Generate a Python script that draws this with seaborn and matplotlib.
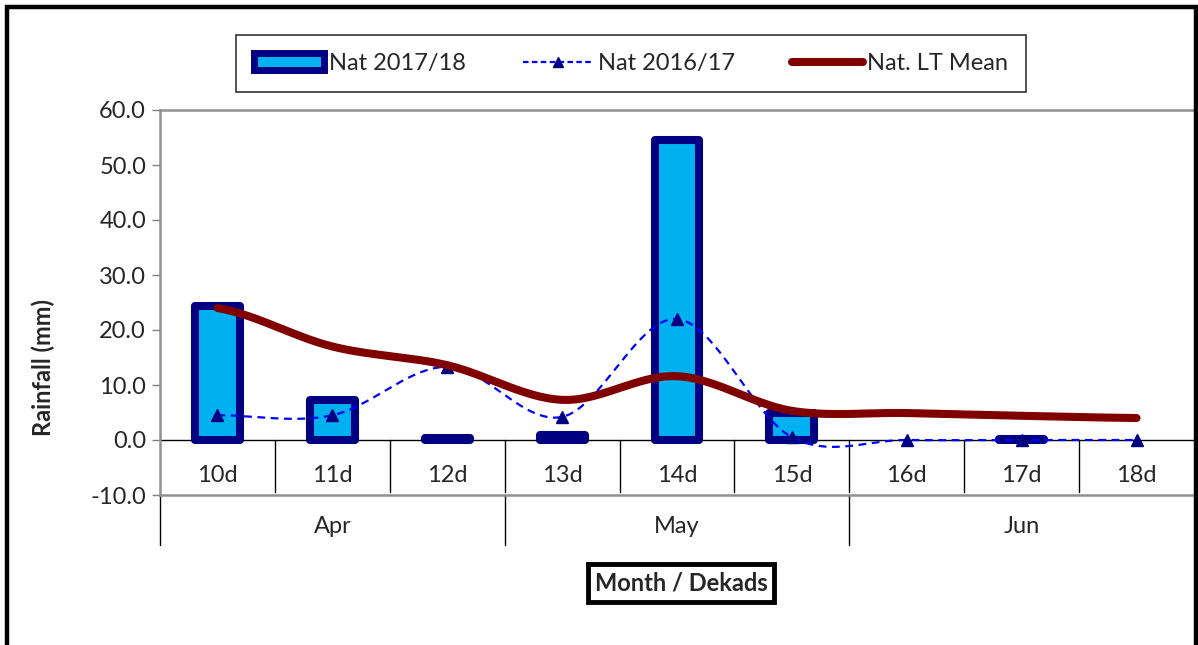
import numpy as np
import matplotlib
matplotlib.use("Agg")
import matplotlib.pyplot as plt
import seaborn as sns
from matplotlib.patches import Patch, Rectangle
from matplotlib.lines import Line2D

dekads = ["10d", "11d", "12d", "13d", "14d", "15d", "16d", "17d", "18d"]
months = ["Apr", "May", "Jun"]
month_span = [3, 3, 3]  # dekads per month
nat_1718 = [24.3, 7.2, 0.3, 1.0, 54.5, 5.0, 0.0, 0.2, 0.0]
nat_1617 = [4.5, 4.5, 13.3, 4.2, 22.0, 0.5, 0.0, 0.0, 0.0]
lt_mean = [24.0, 17.0, 13.6, 7.3, 11.6, 5.3, 4.9, 4.4, 4.0]

FILL = "#00B0F0"
NAVY = "#000080"
BLUE = "#0000FF"
DARKRED = "#800000"
FS = 17


def smooth(y, n=30):
    # Excel-style smoothed line (uniform Catmull-Rom through the points)
    y = np.asarray(y, float)
    x = np.arange(len(y), dtype=float)
    xs, ys = [], []
    for i in range(len(y) - 1):
        p0 = y[i - 1] if i > 0 else y[i]
        p3 = y[i + 2] if i + 2 < len(y) else y[i + 1]
        p1, p2 = y[i], y[i + 1]
        t = np.linspace(0, 1, n, endpoint=False)
        c1 = p1 + (p2 - p0) / 6
        c2 = p2 - (p3 - p1) / 6
        seg = (1 - t) ** 3 * p1 + 3 * (1 - t) ** 2 * t * c1 + 3 * (1 - t) * t ** 2 * c2 + t ** 3 * p2
        xs.append(x[i] + t)
        ys.append(seg)
    xs.append([x[-1]])
    ys.append([y[-1]])
    return np.concatenate(xs), np.concatenate(ys)


sns.set_style("white")
plt.rcParams["font.family"] = ["Lato", "DejaVu Sans"]

fig = plt.figure(figsize=(11.98, 6.45), dpi=100)
ax = fig.add_axes([160 / 1198, 1 - 495 / 645, 1034 / 1198, 385 / 645])

sns.barplot(x=dekads, y=nat_1718, ax=ax, width=0.39, color=FILL, saturation=1,
            edgecolor=NAVY, linewidth=5.8, zorder=2)
for p, v in zip(ax.patches, nat_1718):
    p.set_joinstyle("round")
    if v == 0:
        p.set_visible(False)

xs, ys = smooth(nat_1617)
ax.plot(xs, ys, color=BLUE, lw=1.6, ls=(0, (3.5, 2.5)), zorder=3)
ax.plot(range(len(dekads)), nat_1617, ls="none", marker="^", ms=8, color=NAVY, zorder=3)
xs, ys = smooth(lt_mean)
ax.plot(xs, ys, color=DARKRED, lw=5.8, solid_capstyle="round", zorder=4)

ax.set_ylim(-10, 60)
ax.set_xlim(-0.5, len(dekads) - 0.5)
ax.set_yticks(np.arange(-10, 61, 10))
ax.set_yticklabels([f"{v:.1f}" for v in np.arange(-10, 61, 10)], fontsize=FS)
ax.tick_params(axis="y", direction="out", length=6, width=1, color="#808080", left=True, pad=4)
ax.set_xticks([])
ax.set_xlabel("")
ax.set_ylabel("")
for s in ["left", "top", "bottom"]:
    ax.spines[s].set_color("#909090")
    ax.spines[s].set_linewidth(1.8)
ax.spines["right"].set_visible(False)

# category axis at zero
ax.axhline(0, color="black", lw=1, zorder=1)
tr = ax.get_xaxis_transform()
for i, lab in enumerate(dekads):
    ax.text(i, -6.4, lab, ha="center", va="center", fontsize=FS, zorder=5)
for b in np.arange(0.5, len(dekads) - 0.5, 1):
    ax.plot([b, b], [0, -9.4], color="black", lw=1, zorder=1)
start = -0.5
for m, span in zip(months, month_span):
    ax.text(start + span / 2, -0.083, m, transform=tr, ha="center", va="center", fontsize=FS)
    ax.plot([start, start], [0, -0.13], transform=tr, color="black", lw=1, clip_on=False)
    start += span

fig.text(43 / 1198, 1 - 367 / 645, "Rainfall (mm)", rotation=90, ha="center", va="center",
         fontsize=17, fontweight="bold")
fig.text(681 / 1198, 1 - 583 / 645, "Month / Dekads", ha="center", va="center",
         fontsize=17, fontweight="bold",
         bbox=dict(boxstyle="square,pad=0.3", fc="white", ec="black", lw=3.5))

handles = [
    Patch(facecolor=FILL, edgecolor=NAVY, linewidth=5, joinstyle="round"),
    Line2D([], [], color=BLUE, lw=1.6, ls=(0, (2.5, 1.5)), marker="^", ms=7,
           markerfacecolor=NAVY, markeredgecolor=NAVY),
    Line2D([], [], color=DARKRED, lw=5.8, solid_capstyle="round"),
]
leg = fig.legend(handles, ["Nat 2017/18", "Nat 2016/17", "Nat. LT Mean"], ncol=3,
                 loc="center", bbox_to_anchor=(631 / 1198, 1 - 63.5 / 645), fontsize=FS,
                 frameon=True, fancybox=False, edgecolor="black", handlelength=3.0,
                 handletextpad=0.2, columnspacing=2.4, borderpad=0.75, borderaxespad=0)
leg.get_frame().set_linewidth(1.2)
leg._legend_box.align = "center"

fig.patches.append(Rectangle((7 / 1198, -0.1), 1189 / 1198, 1.1 - 7 / 645,
                             transform=fig.transFigure, fill=False, ec="black", lw=3.2))

fig.savefig("out.png", dpi=100)
